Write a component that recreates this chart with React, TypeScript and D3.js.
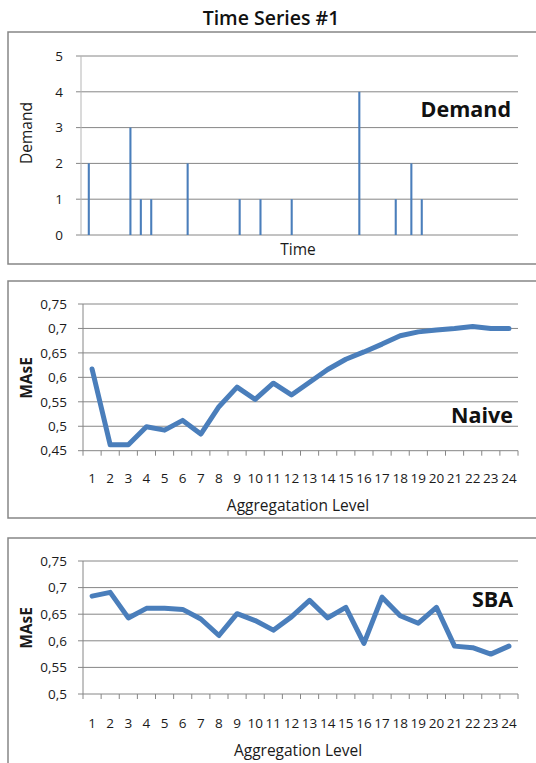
import React from "react";
import * as d3 from "d3";

const demand = [
  0, 2, 0, 0, 0, 0, 0, 0, 0, 3,
  0, 1, 0, 1, 0, 0, 0, 0, 0, 0,
  2, 0, 0, 0, 0, 0, 0, 0, 0, 0,
  1, 0, 0, 0, 1, 0, 0, 0, 0, 0,
  1, 0, 0, 0, 0, 0, 0, 0, 0, 0,
  0, 0, 0, 4, 0, 0, 0, 0, 0, 0,
  1, 0, 0, 2, 0, 1, 0, 0, 0, 0,
  0, 0, 0, 0, 0, 0, 0, 0, 0, 0,
  0, 0, 0, 0,
];
const demandTicks = [0, 1, 2, 3, 4, 5];

const levels = [1, 2, 3, 4, 5, 6, 7, 8, 9, 10, 11, 12, 13, 14, 15, 16, 17, 18, 19, 20, 21, 22, 23, 24];
const naive = [0.617, 0.462, 0.462, 0.499, 0.492, 0.512, 0.484, 0.54, 0.58, 0.555, 0.588, 0.564, 0.59, 0.616, 0.637, 0.652, 0.668, 0.685, 0.693, 0.697, 0.7, 0.704, 0.7, 0.7];
const sba = [0.684, 0.691, 0.643, 0.661, 0.661, 0.659, 0.641, 0.61, 0.651, 0.638, 0.62, 0.645, 0.676, 0.643, 0.663, 0.595, 0.682, 0.647, 0.633, 0.663, 0.59, 0.587, 0.575, 0.59];
const naiveTicks = [0.45, 0.5, 0.55, 0.6, 0.65, 0.7, 0.75];
const sbaTicks = [0.5, 0.55, 0.6, 0.65, 0.7, 0.75];

const FONT = "'Open Sans', 'Liberation Sans', sans-serif";
const BLUE = "#4A7EBB";
const GRID = "#868686";
const TEXT = "#1a1a1a";

const fmt = (v: number) => String(+v.toFixed(2)).replace(".", ",");

function Frame({ y0, y1 }: { y0: number; y1: number }) {
  return <rect x={8} y={y0} width={560} height={y1 - y0} fill="white" stroke={GRID} strokeWidth={1.5} />;
}

function DemandPanel() {
  const x = d3.scaleBand<number>().domain(demand.map((_, i) => i)).range([81, 518]).padding(0);
  const y = d3.scaleLinear().domain([0, 5]).range([235, 56]);
  const bw = x.bandwidth() / 2.5;
  return (
    <g>
      <Frame y0={32} y1={264} />
      {demandTicks.map((t) => (
        <g key={t}>
          <line x1={76} x2={518} y1={y(t)} y2={y(t)} stroke={GRID} strokeWidth={1} />
          <text x={63} y={y(t)} dy="0.35em" textAnchor="end" fontSize={13.5} fontFamily={FONT} fill={TEXT}>{t}</text>
        </g>
      ))}
      <line x1={81} x2={81} y1={y(5)} y2={y(0)} stroke="#b5b5b5" strokeWidth={1} />
      {demand.map((d, i) =>
        d > 0 ? (
          <rect key={i} x={(x(i) as number) + x.bandwidth() / 2 - bw / 2} y={y(d)} width={bw} height={y(0) - y(d)} fill={BLUE} />
        ) : null
      )}
      <text x={27} y={133} transform="rotate(-90 27 133)" textAnchor="middle" dy="0.35em" fontSize={15.5} fontFamily={FONT} fill={TEXT}>Demand</text>
      <text x={298} y={250} textAnchor="middle" dy="0.35em" fontSize={15.5} fontFamily={FONT} fill={TEXT}>Time</text>
      <text x={511} y={117} textAnchor="end" fontSize={21.5} fontWeight={700} fontFamily={FONT} fill="#111">Demand</text>
    </g>
  );
}

function LinePanel({
  y0, y1, values, ticks, r0, r1, xlabY, xTitle, xTitleY, tag, tagY, ylabY,
}: {
  y0: number; y1: number; values: number[]; ticks: number[]; r0: number; r1: number;
  xlabY: number; xTitle: string; xTitleY: number; tag: string; tagY: number; ylabY: number;
}) {
  const x = d3.scaleBand<number>().domain(levels).range([83, 518]).padding(0);
  const y = d3.scaleLinear().domain([ticks[0], ticks[ticks.length - 1]]).range([r0, r1]);
  const line = d3
    .line<number>()
    .x((_, i) => (x(levels[i]) as number) + x.bandwidth() / 2)
    .y((v) => y(v));
  const bounds = [...levels.map((l) => x(l) as number), 518];
  return (
    <g>
      <Frame y0={y0} y1={y1} />
      {ticks.map((t) => (
        <g key={t}>
          <line x1={78} x2={518} y1={y(t)} y2={y(t)} stroke={GRID} strokeWidth={1} />
          <text x={67} y={y(t)} dy="0.35em" textAnchor="end" fontSize={13.5} fontFamily={FONT} fill={TEXT}>{fmt(t)}</text>
        </g>
      ))}
      <line x1={83} x2={83} y1={y(ticks[ticks.length - 1])} y2={y(ticks[0])} stroke={GRID} strokeWidth={1} />
      {bounds.map((b, i) => (
        <line key={i} x1={b} x2={b} y1={y(ticks[0])} y2={y(ticks[0]) + 5} stroke={GRID} strokeWidth={1} />
      ))}
      {levels.map((l) => (
        <text key={l} x={(x(l) as number) + x.bandwidth() / 2} y={xlabY} dy="0.35em" textAnchor="middle" fontSize={13.5} fontFamily={FONT} fill={TEXT}>{l}</text>
      ))}
      <path d={line(values) || ""} fill="none" stroke={BLUE} strokeWidth={5} strokeLinejoin="round" strokeLinecap="round" />
      <text x={27} y={ylabY} transform={`rotate(-90 27 ${ylabY})`} textAnchor="middle" dy="0.35em" fontSize={15.5} fontWeight={700} fontFamily={FONT} fill={TEXT}>MAsE</text>
      <text x={298} y={xTitleY} textAnchor="middle" dy="0.35em" fontSize={15.5} fontFamily={FONT} fill={TEXT}>{xTitle}</text>
      <text x={513} y={tagY} textAnchor="end" fontSize={21.5} fontWeight={700} fontFamily={FONT} fill="#111">{tag}</text>
    </g>
  );
}

export default function App() {
  return (
    <div style={{ position: "absolute", left: 0, top: 0 }}>
      <svg width={536} height={763} style={{ display: "block", background: "white" }}>
        <rect x={0} y={0} width={536} height={763} fill="white" />
        <text x={271} y={25} textAnchor="middle" fontSize={19.5} fontWeight={600} fontFamily={FONT} fill="#111">Time Series #1</text>
        <DemandPanel />
        <LinePanel y0={281} y1={518} values={naive} ticks={naiveTicks} r0={450.7} r1={304}
          xlabY={478} xTitle="Aggregatation Level" xTitleY={506} tag="Naive" tagY={423} ylabY={378} />
        <LinePanel y0={538} y1={790} values={sba} ticks={sbaTicks} r0={694} r1={561}
          xlabY={723} xTitle="Aggregation Level" xTitleY={751} tag="SBA" tagY={607} ylabY={628} />
      </svg>
    </div>
  );
}
